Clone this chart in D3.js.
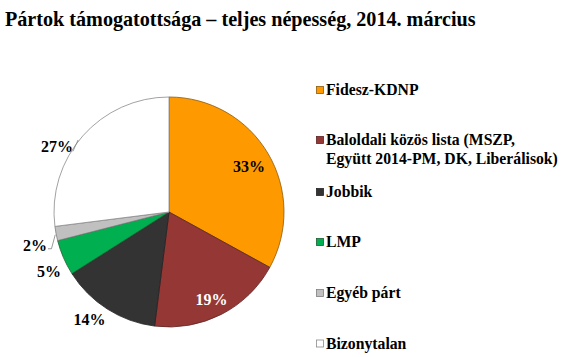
<!DOCTYPE html>
<html><head><meta charset="utf-8">
<script src="https://cdn.jsdelivr.net/npm/d3@7"></script>
<style>body{margin:0;background:#fff}svg{display:block}</style>
</head><body>
<svg id="c" width="564" height="357"></svg>
<script>
const title = "Pártok támogatottsága – teljes népesség, 2014. március";
const categories = ["Fidesz-KDNP", "Baloldali közös lista (MSZP, Együtt 2014-PM, DK, Liberálisok)", "Jobbik", "LMP", "Egyéb párt", "Bizonytalan"];
const legendLines = [["Fidesz-KDNP"], ["Baloldali közös lista (MSZP,", "Együtt 2014-PM, DK, Liberálisok)"], ["Jobbik"], ["LMP"], ["Egyéb párt"], ["Bizonytalan"]];
const values = [33, 19, 14, 5, 2, 27];
const colors = ["#FF9900", "#953735", "#333333", "#00B050", "#C0C0C0", "#FFFFFF"];
const strokes = ["#8C5A10", "#5a2423", "#222222", "#1f5f33", "#7f7f7f", "#8a8a8a"];
const labelColors = ["#000", "#fff", "#000", "#000", "#000", "#000"];
// label layout: radius and angular nudge (degrees)
const labelRadius = [92, 97, 134, 134, 138, 130];
const labelNudge = [1, 1, 4, -3, -3, -11];

const font = "'Liberation Serif', serif";
const svg = d3.select("#c");
const cx = 169, cy = 212, R = 115;

function fit(sel, size, target) {
  sel.style("font-size", size + "px");
  const w = sel.node().getComputedTextLength();
  const s = size * target / w;
  sel.style("font-size", s + "px");
  return s;
}

// title
const t = svg.append("text").attr("x", 5).attr("y", 26)
  .style("font-family", font).style("font-weight", "bold")
  .attr("fill", "#000").text(title);
fit(t, 18, 471);

const pie = d3.pie().sort(null).value(d => d)(values);
const arc = d3.arc().innerRadius(0).outerRadius(R);
const g = svg.append("g").attr("transform", `translate(${cx},${cy})`);
g.selectAll("path").data(pie).join("path")
  .attr("d", arc).attr("fill", (d, i) => colors[i])
  .attr("stroke", (d, i) => strokes[i]).attr("stroke-width", 0.8)
  .attr("stroke-linejoin", "round");

function polar(a, r) { return [Math.sin(a) * r, -Math.cos(a) * r]; }

const probe = svg.append("text").style("font-family", font).style("font-weight", "bold").text("33%");
const pctSize = fit(probe, 14, 32);
probe.remove();

const labels = g.selectAll("text.pl").data(pie).join("text").attr("class", "pl")
  .each(function (d, i) {
    const a = (d.startAngle + d.endAngle) / 2 + labelNudge[i] * Math.PI / 180;
    const [x, y] = polar(a, labelRadius[i]);
    d3.select(this).attr("x", x).attr("y", y).attr("dy", "0.35em");
  })
  .attr("text-anchor", "middle")
  .style("font-family", font).style("font-weight", "bold").style("font-size", pctSize + "px")
  .attr("fill", (d, i) => labelColors[i])
  .text(d => d.data + "%");

// leader lines for Egyéb párt and Bizonytalan
[4, 5].forEach(i => {
  const d = pie[i];
  const node = labels.nodes()[i];
  const bb = node.getBBox();
  const edgeA = i === 4 ? (d.startAngle + d.endAngle) / 2 - 0.5 * Math.PI / 180 : (d.startAngle + d.endAngle) / 2 - 3 * Math.PI / 180;
  const [ex, ey] = polar(edgeA, R + 1);
  let pts;
  if (i === 4) {
    const sx = bb.x + bb.width + 1, sy = bb.y + bb.height * 0.72;
    pts = [[sx, sy], [sx + 3.5, sy], [ex, ey]];
  } else {
    const sx = bb.x + bb.width, sy = bb.y + bb.height * 0.8;
    pts = [[sx, sy], [ex, ey]];
  }
  g.append("path").attr("d", d3.line()(pts)).attr("fill", "none")
    .attr("stroke", "#7f7f7f").attr("stroke-width", 0.8);
});

// legend
const lg = svg.append("g");
const probe2 = svg.append("text").style("font-family", font).style("font-weight", "bold").text(legendLines[1][1]);
const legSize = fit(probe2, 13, 232);
probe2.remove();
const legendY = [90, 140, 192, 242, 293, 343.5];
legendLines.forEach((lines, i) => {
  lg.append("rect").attr("x", 316.5).attr("y", legendY[i] - 3.5).attr("width", 7).attr("height", 7)
    .attr("fill", colors[i]).attr("stroke", strokes[i]).attr("stroke-width", 0.8);
  lines.forEach((ln, j) => {
    lg.append("text").attr("x", 326).attr("y", legendY[i] + 5 + j * 19)
      .style("font-family", font).style("font-weight", "bold").style("font-size", legSize + "px")
      .attr("fill", "#000").text(ln);
  });
});
</script>
</body></html>
